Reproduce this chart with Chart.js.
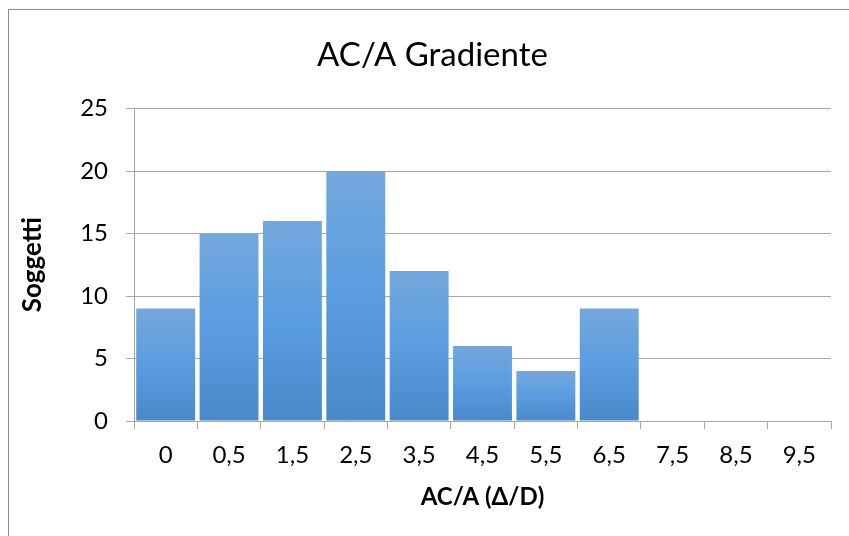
<!DOCTYPE html>
<html>
<head>
<meta charset="utf-8">
<title>AC/A Gradiente</title>
<script src="https://cdn.jsdelivr.net/npm/chart.js@4"></script>
<style>
  html, body { margin: 0; padding: 0; background: #fff; }
  #wrap { width: 849px; height: 536px; }
</style>
</head>
<body>
<div id="wrap"><canvas id="acaChart" width="849" height="536"></canvas></div>
<script>
// AC/A classes (Δ/D) and number of subjects per class
const classLabels = ["0", "0,5", "1,5", "2,5", "3,5", "4,5", "5,5", "6,5", "7,5", "8,5", "9,5"];
const subjects = [9, 15, 16, 20, 12, 6, 4, 9, 0, 0, 0];
const yTicks = [0, 5, 10, 15, 20, 25];

const gridGray = "#a6a6a6";
const fontFamily = "Lato, 'Open Sans', sans-serif";

// vertical gradient per bar: lighter top, darker bottom
function barFill(context) {
    const chart = context.chart;
    if (!chart.chartArea || !chart.scales.y) return "#5b9bd5";
    const y = chart.scales.y;
    const top = y.getPixelForValue(context.raw);
    const bottom = y.getPixelForValue(0);
    if (!(bottom > top)) return "#5b9bd5";
    const g = chart.ctx.createLinearGradient(0, top, 0, bottom);
    g.addColorStop(0, "#74a8dd");
    g.addColorStop(0.5, "#5a9de0");
    g.addColorStop(1, "#4a89c9");
    return g;
}

// white background and the thin outer frame
const frame = {
    id: "frame",
    beforeDraw(chart) {
        const ctx = chart.ctx;
        ctx.save();
        ctx.fillStyle = "#fff";
        ctx.fillRect(0, 0, chart.width, chart.height);
        ctx.strokeStyle = "#8c8c8c";
        ctx.lineWidth = 1;
        ctx.strokeRect(8.5, 9.5, 900, 600);
        ctx.restore();
    }
};

new Chart(document.getElementById("acaChart"), {
    type: "bar",
    data: {
        labels: classLabels,
        datasets: [{
            label: "Soggetti",
            data: subjects,
            backgroundColor: barFill,
            borderWidth: 0,
            barPercentage: 0.93,
            categoryPercentage: 1
        }]
    },
    options: {
        responsive: false,
        animation: false,
        // left padding keeps the main title centred inside the frame
        layout: { padding: { left: 34, right: 18, top: 0, bottom: 0 } },
        plugins: {
            legend: { display: false },
            tooltip: { enabled: false },
            title: {
                display: true,
                text: "AC/A Gradiente",
                color: "#000",
                font: { family: fontFamily, size: 33, weight: "normal", lineHeight: 1.2 },
                padding: { top: 35.2, bottom: 33.7 }
            }
        },
        scales: {
            x: {
                grid: {
                    offset: true,
                    drawOnChartArea: false,
                    drawTicks: true,
                    tickLength: 8,
                    color: gridGray
                },
                border: { color: gridGray },
                ticks: {
                    color: "#000",
                    padding: 11.6,
                    font: { family: fontFamily, size: 24 }
                },
                title: {
                    display: true,
                    text: "AC/A (Δ/D)",
                    color: "#000",
                    font: { family: fontFamily, size: 24, weight: "bold", lineHeight: 1.2 },
                    padding: { top: 0, bottom: 24.6 }
                },
                afterFit(scale) { scale.height = 115; }
            },
            y: {
                min: 0,
                max: 25,
                afterBuildTicks(scale) { scale.ticks = yTicks.map(v => ({ value: v })); },
                grid: {
                    color: gridGray,
                    tickLength: 8
                },
                border: { color: gridGray },
                ticks: {
                    color: "#000",
                    padding: 18,
                    font: { family: fontFamily, size: 24 }
                },
                title: {
                    display: true,
                    text: "Soggetti",
                    color: "#000",
                    font: { family: fontFamily, size: 26, weight: "bold", lineHeight: 1.2 },
                    padding: { top: -16.6, bottom: 0 }
                },
                afterFit(scale) { scale.width = 100; }
            }
        }
    },
    plugins: [frame]
});
</script>
</body>
</html>
